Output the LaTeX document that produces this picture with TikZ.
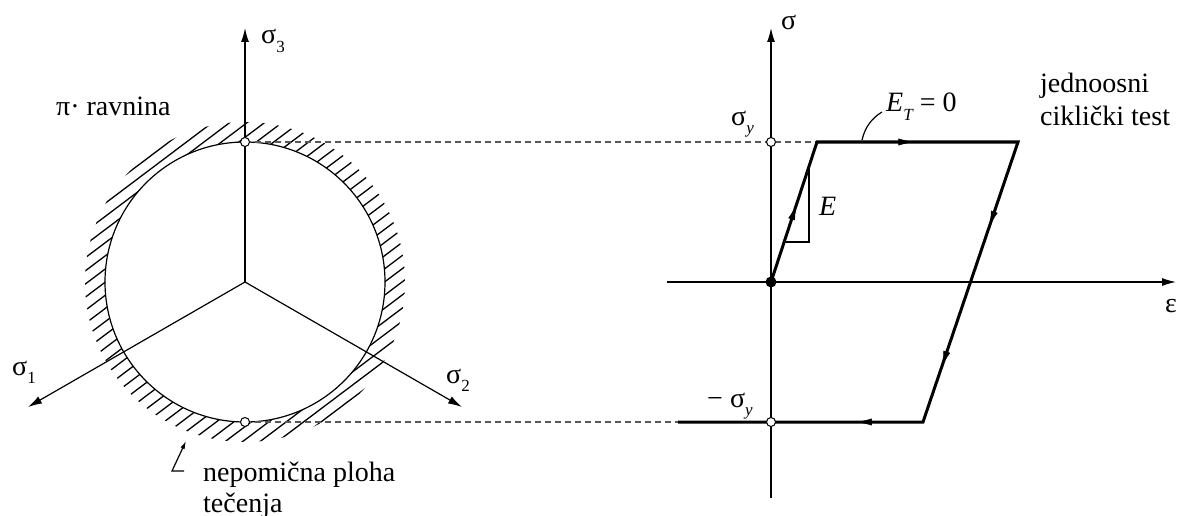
\documentclass[tikz,border=0pt]{standalone}
\usepackage{fontspec}
\setmainfont{Liberation Serif}
\usetikzlibrary{arrows.meta,decorations.markings,calc}
\newcommand{\msub}[1]{\raisebox{-0.32em}{\fontsize{17}{17}\selectfont #1}}
\begin{document}
\begin{tikzpicture}[x=1pt,y=-1pt,
  thinline/.style={line width=1.2pt},
  axisarrow/.style={line width=1.2pt,-{Latex[length=14pt,width=8pt]}},
  loopline/.style={line width=3pt},
  dashline/.style={line width=1.2pt,draw=black!65,dash pattern=on 6pt off 4pt},
  hatchline/.style={line width=1.3pt},
  lbl/.style={inner sep=0pt,anchor=base west,font=\fontsize{28}{32}\selectfont},
  opendot/.style={circle,draw,fill=white,line width=1pt,inner sep=0pt,minimum size=9pt},
  arr/.style={postaction={decorate,decoration={markings,mark=at position #1 with {\arrow{Latex[length=15pt,width=7pt]}}}}},
]
\useasboundingbox (0,0) rectangle (1180,516);

% ---------- left: pi plane ----------
\coordinate (C) at (245,282);
\coordinate (S3) at (245,28);
\coordinate (S1) at (28,407);
\coordinate (S2) at (462,407);
\coordinate (Ctop) at (245,142);
\coordinate (Cbot) at (245,422);

\begin{scope}[even odd rule]
  \clip (C) circle[radius=160] (C) circle[radius=140];
  \begin{scope}[shift={(C)},rotate=37]
    \foreach \k in {-16,...,16} \draw[hatchline] (-180,\k*10.5) -- (180,\k*10.5);
  \end{scope}
\end{scope}
\draw[thinline] (C) circle[radius=140];

\draw[axisarrow] (C) -- (S3);
\draw[axisarrow] (C) -- (S1);
\draw[axisarrow] (C) -- (S2);

% ---------- right: cyclic test ----------
\coordinate (O) at (771,282);
\coordinate (Stop) at (771,28);
\coordinate (Sbot) at (771,498);
\coordinate (Eleft) at (667,282);
\coordinate (Eright) at (1176,282);
\coordinate (P1) at (817,142);
\coordinate (P2) at (1018,142);
\coordinate (P3) at (923,422);
\coordinate (P4) at (678,422);

\draw[dashline] (Ctop) -- (P1);
\draw[dashline] (Cbot) -- (P4);

\draw[axisarrow] (Sbot) -- (Stop);
\draw[axisarrow] (Eleft) -- (Eright);

\draw[loopline,line join=miter] (O) -- (P1) -- (P2) -- (P3) -- (P4);
\path[arr=0.55] (O) -- (P1);
\path[arr=0.48] (P1) -- (P2);
\path[arr=0.30] (P2) -- (P3);
\path[arr=0.80] (P2) -- (P3);
\path[arr=0.27] (P3) -- (P4);

% slope triangle
\coordinate (T1) at (809,167);
\coordinate (T2) at (809,242);
\coordinate (T3) at (784,242);
\draw[thinline] (T1) -- (T2) -- (T3);

\node[opendot] (A) at (Ctop) {};
\node[opendot] (B) at (Cbot) {};
\node[opendot] (Y1) at (771,142) {};
\node[opendot] (Y2) at (771,422) {};
\node[circle,fill,inner sep=0pt,minimum size=11pt] (Odot) at (O) {};

% leaders
\coordinate (L1) at (862,140);
\coordinate (L2) at (882,112);
\draw[thinline] (L1) .. controls (865,127) and (872,118) .. (L2);
\coordinate (N1) at (184,471);
\coordinate (N2) at (172,471);
\coordinate (N3) at (186,441);
\draw[thinline,-{Latex[length=8pt,width=4.5pt]}] (N1) -- (N2) -- (N3);

% labels
\node[lbl] (l3) at (261,44) {σ\msub{3}};
\node[lbl] (l1) at (12,375) {σ\msub{1}};
\node[lbl] (l2) at (446,383) {σ\msub{2}};
\node[lbl] (ls) at (781,30) {σ};
\node[lbl] (lsy) at (731,125) {σ\msub{\itshape y}};
\node[lbl] (lmsy) at (707,407) {− σ\msub{\itshape y}};
\node[lbl] (let) at (886,112) {\itshape E\msub{T}\upshape\ = 0};
\node[lbl] (le) at (819,215) {\itshape E};
\node[lbl] (leps) at (1165,312) {ε};
\node[lbl] (pi) at (56,116) {π· ravnina};
\node[lbl] (j1) at (1040,93) {jednoosni};
\node[lbl] (j2) at (1040,125) {ciklički test};
\node[lbl] (n1) at (203,481) {nepomična ploha};
\node[lbl] (n2) at (203,512) {tečenja};
\end{tikzpicture}
\end{document}
